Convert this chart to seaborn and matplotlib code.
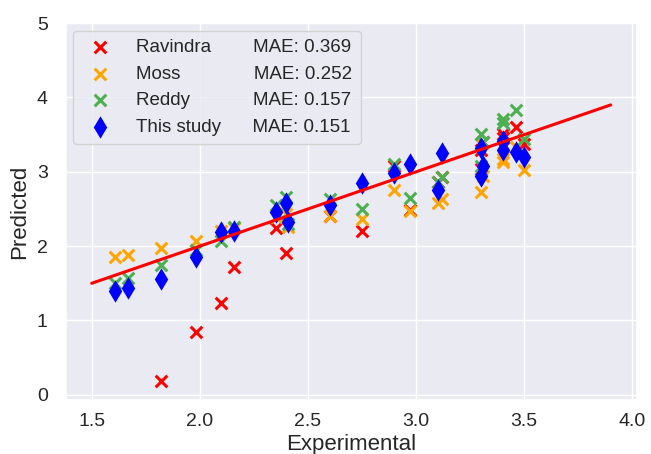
import numpy as np
import matplotlib
matplotlib.use("Agg")
import matplotlib.pyplot as plt
import seaborn as sns

# Experimental values for each compound
experimental = [1.61, 1.67, 1.82, 1.98, 2.10, 2.16, 2.35, 2.40, 2.41, 2.60, 2.75,
                2.90, 2.97, 3.10, 3.12, 3.30, 3.30, 3.31, 3.40, 3.40, 3.46, 3.50]

# Predicted values from each method (nan = no prediction available)
ravindra = [np.nan, np.nan, 0.18, 0.85, 1.23, 1.72, 2.24, 1.91, np.nan, 2.40, 2.21,
            3.08, 2.48, 2.86, 2.93, 3.29, 3.04, 3.40, 3.51, 3.46, 3.60, 3.37]
moss = [1.85, 1.88, 1.97, 2.07, 2.20, 2.25, 2.39, 2.43, 2.26, 2.41, 2.36,
        2.75, 2.47, 2.58, 2.63, 3.37, 2.73, 2.95, 3.17, 3.13, 3.33, 3.02]
reddy = [1.51, 1.57, 1.75, 1.95, 2.07, 2.26, 2.56, 2.66, 2.30, 2.64, 2.50,
         3.10, 2.65, 2.86, 2.93, 3.51, 3.08, 3.40, 3.71, 3.66, 3.83, 3.44]
this_study = [1.40, 1.44, 1.56, 1.85, 2.19, 2.21, 2.46, 2.58, 2.32, 2.55, 2.85,
              2.99, 3.11, 2.75, 3.25, 3.32, 2.95, 3.08, 3.42, 3.30, 3.26, 3.20]

names = ["Ravindra", "Moss", "Reddy", "This study"]
mae_values = ["0.369", "0.252", "0.157", "0.151"]

# Ideal-agreement line endpoints
ideal = [1.5, 3.9]

sns.set_theme(style="darkgrid")
plt.rcParams["font.family"] = ["Liberation Sans", "DejaVu Sans"]

fig, ax = plt.subplots(figsize=(6.51, 4.54), dpi=100)
fig.subplots_adjust(left=0.101, right=0.978, top=0.949, bottom=0.119)

series = [ravindra, moss, reddy, this_study]
colors = ["red", "orange", "#4caf50", "blue"]
markers = ["x", "x", "x", "d"]
sizes = [70, 70, 70, 130]

for name, vals, col, mk, sz in zip(names, series, colors, markers, sizes):
    if mk == "x":
        sns.scatterplot(x=experimental, y=vals, marker=mk, color=col, s=sz,
                        linewidth=2.2, label=name, ax=ax, zorder=3)
    else:
        sns.scatterplot(x=experimental, y=vals, marker=mk, color=col, s=sz,
                        linewidth=0, label=name, ax=ax, zorder=3)

sns.lineplot(x=ideal, y=ideal, color="red", linewidth=2.2, ax=ax, zorder=4)

ax.set_ylim(-0.07, 5)
ax.set_yticks([0, 1, 2, 3, 4, 5])
ax.set_xlabel("Experimental", fontsize=16, labelpad=3)
ax.set_ylabel("Predicted", fontsize=16, labelpad=5)
ax.tick_params(axis="x", labelsize=14, pad=3.5)
ax.tick_params(axis="y", labelsize=14, pad=7)

# Legend: names padded with spaces so the MAE column lines up
fig.canvas.draw()
renderer = fig.canvas.get_renderer()
LEG_SIZE = 13.5


def text_width(s, size=LEG_SIZE):
    t = ax.text(0, 0, s, fontsize=size)
    w = t.get_window_extent(renderer).width
    t.remove()
    return w


space_w = text_width("a a") - text_width("aa")
target = text_width("This study") + 6 * space_w
labels = []
for n, m in zip(names, mae_values):
    pad = max(1, int(round((target - text_width(n)) / space_w)))
    labels.append(n + " " * pad + "MAE: " + m)

handles, _ = ax.get_legend_handles_labels()
ax.legend(handles[:4], labels, loc="upper left", fontsize=LEG_SIZE,
          labelspacing=0.5, handletextpad=0.9, borderpad=0.45,
          borderaxespad=0.4)

fig.savefig("out.png", dpi=100)
